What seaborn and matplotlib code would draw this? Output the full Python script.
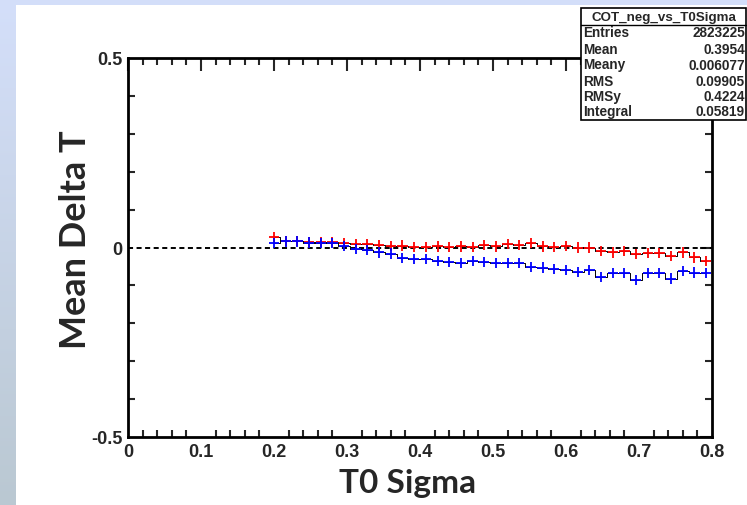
import numpy as np
import pandas as pd
import seaborn as sns
import matplotlib
matplotlib.use("Agg")
import matplotlib.pyplot as plt
from matplotlib.patches import Rectangle
from matplotlib.lines import Line2D
from matplotlib.ticker import MultipleLocator

# ---------------- data ----------------
t0_sigma = [0.200, 0.216, 0.232, 0.248, 0.264, 0.280, 0.296, 0.312, 0.328, 0.344,
            0.360, 0.376, 0.392, 0.408, 0.424, 0.440, 0.456, 0.472, 0.488, 0.504,
            0.520, 0.536, 0.552, 0.568, 0.584, 0.600, 0.616, 0.632, 0.648, 0.664,
            0.680, 0.696, 0.712, 0.728, 0.744, 0.760, 0.776, 0.792]
red_mean = [0.028, 0.017, 0.018, 0.015, 0.015, 0.014, 0.011, 0.010, 0.010, 0.006,
            0.004, 0.005, 0.001, 0.002, 0.003, 0.001, 0.003, 0.002, 0.006, 0.003,
            0.010, 0.006, 0.011, 0.003, 0.002, 0.004, 0.000, 0.000, -0.009, -0.013,
            -0.009, -0.018, -0.015, -0.015, -0.022, -0.013, -0.026, -0.035]
blue_mean = [0.011, 0.016, 0.016, 0.013, 0.011, 0.011, 0.004, -0.004, -0.006, -0.013,
             -0.016, -0.027, -0.030, -0.031, -0.036, -0.038, -0.041, -0.036, -0.038, -0.040,
             -0.040, -0.041, -0.051, -0.053, -0.056, -0.060, -0.064, -0.059, -0.077, -0.068,
             -0.068, -0.085, -0.068, -0.068, -0.082, -0.062, -0.066, -0.068]
series_names = ["neg", "pos"]
series_colors = ["#ff0000", "#0000ff"]

x_ticks = [0, 0.1, 0.2, 0.3, 0.4, 0.5, 0.6, 0.7, 0.8]
x_tick_labels = ["0", "0.1", "0.2", "0.3", "0.4", "0.5", "0.6", "0.7", "0.8"]
y_ticks = [-0.5, 0, 0.5]
y_tick_labels = ["-0.5", "0", "0.5"]

stats_title = "COT_neg_vs_T0Sigma"
stats_labels = ["Entries", "Mean", "Meany", "RMS", "RMSy", "Integral"]
stats_values = ["2823225", "0.3954", "0.006077", "0.09905", "0.4224", "0.05819"]

df = pd.concat([
    pd.DataFrame({"x": t0_sigma, "y": red_mean, "series": series_names[0]}),
    pd.DataFrame({"x": t0_sigma, "y": blue_mean, "series": series_names[1]}),
], ignore_index=True)

# ---------------- figure ----------------
sns.set_theme(style="white")
plt.rcParams["font.family"] = ["Liberation Sans", "DejaVu Sans"]

W, H = 747, 506
fig = plt.figure(figsize=(W / 100, H / 100), dpi=100)

# slide-like background with gradient
bg = fig.add_axes([0, 0, 1, 1])
bg.set_xlim(0, W)
bg.set_ylim(H, 0)
bg.axis("off")
top = np.array([212, 223, 250]) / 255
bot = np.array([186, 200, 210]) / 255
grad = np.linspace(0, 1, 256)[:, None, None]
img = top[None, None, :] * (1 - grad) + bot[None, None, :] * grad
img = np.repeat(img, 2, axis=1)
bg.imshow(img, extent=[0, W, H, 0], aspect="auto", zorder=0)
bg.add_patch(Rectangle((16, 6), W - 16, H - 6, facecolor="white", edgecolor="none", zorder=1))

# main axes
x0, x1 = 128, 712
y0, y1 = 59, 438
ax = fig.add_axes([x0 / W, 1 - y1 / H, (x1 - x0) / W, (y1 - y0) / H])
ax.set_facecolor("white")

ax.axhline(0, color="black", lw=1.4, ls=(0, (2.6, 1.8)), zorder=1)

sns.lineplot(data=df, x="x", y="y", units="series", estimator=None,
             color="black", lw=0.7, drawstyle="steps-mid", ax=ax, zorder=2, legend=False)
sns.scatterplot(data=df, x="x", y="y", hue="series",
                palette=dict(zip(series_names, series_colors)),
                marker="+", s=55, linewidth=1.3, ax=ax, zorder=3, legend=False)

ax.set_xlim(0, 0.8)
ax.set_ylim(-0.5, 0.5)
ax.set_xticks(x_ticks)
ax.set_xticklabels(x_tick_labels)
ax.set_yticks(y_ticks)
ax.set_yticklabels(y_tick_labels)
ax.xaxis.set_minor_locator(MultipleLocator(0.02))
ax.yaxis.set_minor_locator(MultipleLocator(0.1))
ax.tick_params(axis="both", which="major", direction="in", length=9, width=1.5,
               top=True, right=True, labelsize=13, pad=4)
ax.tick_params(axis="both", which="minor", direction="in", length=5, width=1.5,
               top=True, right=True, bottom=True, left=True)
for lab in ax.get_xticklabels() + ax.get_yticklabels():
    lab.set_fontweight("bold")
for sp in ax.spines.values():
    sp.set_linewidth(2)
    sp.set_color("black")
ax.set_xlabel("")
ax.set_ylabel("")

# axis titles (slide text)
fig.text(408 / W, 1 - 484 / H, "T0 Sigma", ha="center", va="center",
         fontsize=24, fontweight="bold", family=["Lato", "DejaVu Sans"])
fig.text(76 / W, 1 - 240 / H, "Mean Delta T", ha="center", va="center", rotation=90,
         fontsize=26, fontweight="bold", family=["Lato", "DejaVu Sans"])

# stats box
bx0, bx1, by0, by1 = 581, 746, 9, 121
fig.patches.append(Rectangle((bx0 / W, 1 - by1 / H), (bx1 - bx0) / W, (by1 - by0) / H,
                             transform=fig.transFigure, facecolor="white",
                             edgecolor="black", lw=1.2, zorder=5))
fig.lines.append(Line2D([bx0 / W, bx1 / W], [1 - 26 / H, 1 - 26 / H],
                        transform=fig.transFigure, color="black", lw=1.0, zorder=6))
fig.text((bx0 + bx1) / 2 / W, 1 - 17.5 / H, stats_title, ha="center", va="center",
         fontsize=9.6, fontweight="bold", zorder=7)
row_y = [33, 49.5, 65.5, 81.5, 97, 112.5]
for lab, val, yy in zip(stats_labels, stats_values, row_y):
    fig.text(583 / W, 1 - yy / H, lab, ha="left", va="center",
             fontsize=9.8, fontweight="bold", zorder=7)
    fig.text(745 / W, 1 - yy / H, val, ha="right", va="center",
             fontsize=9.8, fontweight="bold", zorder=7)

fig.savefig("out.png", dpi=100)
